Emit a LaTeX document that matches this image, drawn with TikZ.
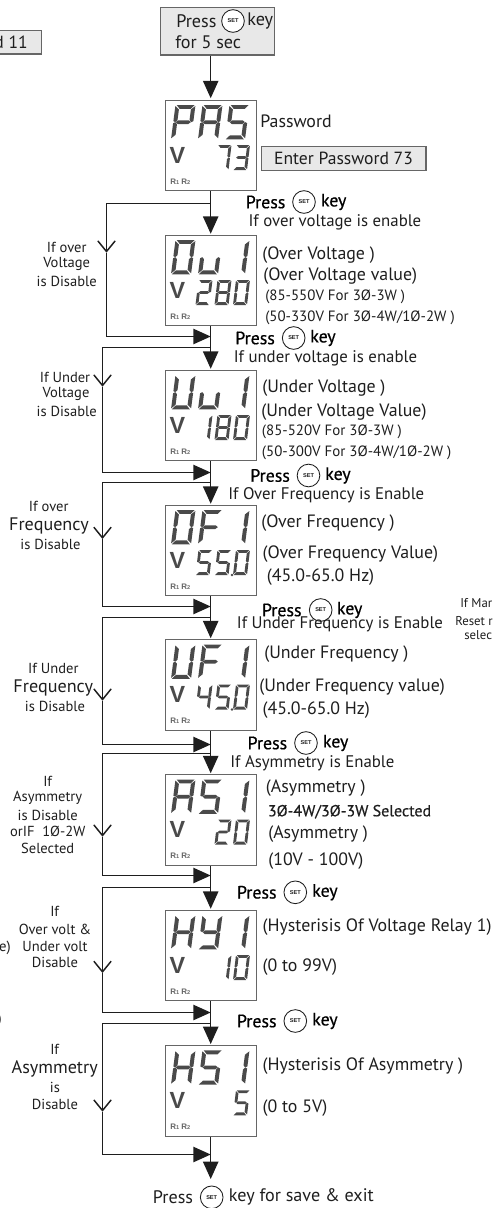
\documentclass[tikz,border=0pt]{standalone}
\usepackage{fontspec}
\setmainfont{PT Sans}
\newfontfamily\pressfont[FakeBold=0.6]{PT Sans}
\newfontfamily\vfont{Liberation Sans}
\usetikzlibrary{arrows.meta}
\definecolor{seg}{HTML}{4A4A4A}
\definecolor{ink}{HTML}{1E1E1E}
\definecolor{edge}{HTML}{666666}
\definecolor{panel}{HTML}{E8E8E8}
\newcommand{\fsize}[1]{\fontsize{#1}{#1}\selectfont}
\tikzset{
  lbl/.style={anchor=west,inner sep=0pt,text=ink,font=\fsize{13.4}},
  lblc/.style={anchor=west,inner sep=0pt,text=ink,font=\fsize{12.6}},
  lblm/.style={anchor=west,inner sep=0pt,text=ink,font=\fsize{11.2}},
  lblb/.style={anchor=west,inner sep=0pt,text=ink,font=\pressfont\fsize{12}},
  keytxt/.style={anchor=west,inner sep=0pt,text=black,font=\pressfont\fsize{13.4}},
  plaintxt/.style={anchor=west,inner sep=0pt,text=ink,font=\fsize{13.6}},
  cond/.style={anchor=center,inner sep=0pt,text=ink,font=\fsize{10.9}},
  condbig/.style={anchor=center,inner sep=0pt,text=ink,font=\fsize{13.6}},
  screenbox/.style={draw=edge,line width=0.75pt,fill=white,minimum width=68.2pt,minimum height=68.2pt,inner sep=0pt},
  greybox/.style={draw=edge,line width=0.85pt,fill=panel,inner sep=0pt},
  setkey/.style={circle,draw=ink,line width=0.65pt,fill=white,inner sep=0pt,minimum size=17pt,font=\vfont\bfseries\fsize{4.2},text=ink},
  flow/.style={draw=ink,line width=0.95pt},
  solidtip/.style={-{Triangle[width=11.5pt,length=13pt]}},
  barbtip/.style={-{Straight Barb[width=13pt,length=8pt,line width=1.1pt]}},
  vmark/.style={anchor=center,inner sep=0pt,text=seg,font=\vfont\bfseries\fsize{17.5}},
  rmark/.style={anchor=west,inner sep=0pt,text=edge,font=\vfont\bfseries\fsize{6}},
}
\newcommand{\dsa}{\fill[seg] (0.06,1)--(0.96,1)--(0.78,0.885)--(0.24,0.885)--cycle;}
\newcommand{\dsb}{\fill[seg] (1,0.97)--(1,0.53)--(0.90,0.50)--(0.80,0.56)--(0.80,0.87)--cycle;}
\newcommand{\dsc}{\fill[seg] (1,0.47)--(1,0.03)--(0.80,0.13)--(0.80,0.44)--(0.90,0.50)--cycle;}
\newcommand{\dsd}{\fill[seg] (0.04,0)--(0.94,0)--(0.76,0.115)--(0.22,0.115)--cycle;}
\newcommand{\dse}{\fill[seg] (0,0.03)--(0,0.47)--(0.10,0.50)--(0.20,0.44)--(0.20,0.13)--cycle;}
\newcommand{\dsf}{\fill[seg] (0,0.97)--(0,0.53)--(0.10,0.50)--(0.20,0.56)--(0.20,0.87)--cycle;}
\newcommand{\dsg}{\fill[seg] (0.12,0.50)--(0.24,0.555)--(0.76,0.555)--(0.88,0.50)--(0.76,0.445)--(0.24,0.445)--cycle;}
% digit: x (left), y (bottom), width, slant, height, segments
\newcommand{\lcd}[6]{\begin{scope}[shift={(#1,#2)},x={(#3*0.75pt,0pt)},y={(#4*0.75pt,#5*0.75pt)}]
  \edef\seglist{#6}
  \foreach \sg in \seglist {\csname ds\sg\endcsname}
\end{scope}}
\newcommand{\cP}{a,b,e,f,g}\newcommand{\cA}{a,b,c,e,f,g}\newcommand{\cS}{a,c,d,f,g}
\newcommand{\cO}{a,b,c,d,e,f}\newcommand{\cu}{c,d,e}\newcommand{\cI}{b,c}
\newcommand{\cU}{b,c,d,e,f}\newcommand{\cF}{a,e,f,g}\newcommand{\cH}{b,c,e,f,g}
\newcommand{\cY}{b,c,d,f,g}\newcommand{\cT}{a,b,c}\newcommand{\cE}{a,b,c,d,g}
\newcommand{\cW}{a,b,d,e,g}\newcommand{\cB}{a,b,c,d,e,f,g}\newcommand{\cQ}{b,c,f,g}
% screen: name, top, three big digits, three small digits
\newcommand{\screen}[8]{%
  \node[screenbox] (#1) at (210.7,#2+45.5) {};
  \lcd{171}{#2+39.3}{20}{4.5}{34.3}{#3}
  \lcd{198}{#2+39.3}{20}{4.5}{34.3}{#4}
  \lcd{225}{#2+39.3}{20}{4.5}{34.3}{#5}
  \lcd{195.5}{#2+70}{14}{3}{25}{#6}
  \lcd{214.5}{#2+70}{14}{3}{25}{#7}
  \lcd{233}{#2+70}{14}{3}{25}{#8}
  \node[vmark] (#1v) at (177.5,#2+55) {V};
  \node[rmark] (#1r) at (170,#2+81.5) {R\raisebox{-0.3pt}{\fsize{4.2}1} R\raisebox{-0.3pt}{\fsize{4.2}2}};
}
\newcommand{\presskey}[7]{%
  \node[#7] (#1p) at (#2,#3) {Press};
  \node[setkey] (#1c) at (#4,#3) {SET};
  \node[#7] (#1k) at (#5,#3) {#6};
}
\newcommand{\bypass}[5]{%
  \coordinate (#1a) at (210.7,#3);
  \coordinate (#1b) at (#2,#3);
  \coordinate (#1m) at (#2,#5);
  \coordinate (#1e) at (#2,#4);
  \coordinate (#1f) at (210.7,#4);
  \draw[flow,barbtip] (#1a) -- (#1b) -- (#1m);
  \draw[flow,solidtip] (#1m) -- (#1e) -- (#1f);
}
\begin{document}
\begin{tikzpicture}[x=0.75pt,y=-0.75pt]
\useasboundingbox (0,0) rectangle (494,1208);
% grey boxes
\node[greybox,minimum width=86pt,minimum height=35.6pt] (start) at (217.5,31.2) {};
\node[greybox,minimum width=123.4pt,minimum height=17.4pt] (enter) at (343.7,158.5) {};
\node[greybox,minimum width=34pt,minimum height=17.6pt] (cut) at (18.5,42.2) {};
\node[anchor=east,inner sep=0pt,text=ink,font=\fsize{13.2}] (cutt) at (28,42) {d 11};
\node[anchor=center,inner sep=0pt,text=ink,font=\fsize{13.2}] (entert) at (343.5,158.5) {Enter Password 73};
% screens
\screen{pas}{100}{\cP}{\cA}{\cS}{}{\cT}{\cE}
\screen{ou}{235}{\cO}{\cu}{\cI}{\cW}{\cB}{\cO}
\screen{uv}{370}{\cU}{\cu}{\cI}{\cI}{\cB}{\cO}
\screen{of}{505}{\cO}{\cF}{\cI}{\cS}{\cS}{\cO}
\screen{uf}{639.5}{\cU}{\cF}{\cI}{\cQ}{\cS}{\cO}
\screen{as}{774.5}{\cA}{\cS}{\cI}{}{\cW}{\cO}
\screen{hy}{910}{\cH}{\cY}{\cI}{}{\cI}{\cO}
\screen{hs}{1045.3}{\cH}{\cS}{\cI}{}{}{\cS}
\fill[seg] (232,575) circle (1.4);
\fill[seg] (232,709.5) circle (1.4);
% main flow
\coordinate (endp) at (210.7,1179);
\draw[flow,solidtip,shorten >=1pt] (start.south -| pas.north) -- (pas.north);
\draw[flow,solidtip,shorten >=0.6pt] (pas.south) -- (ou.north);
\draw[flow,solidtip,shorten >=0.6pt] (ou.south) -- (uv.north);
\draw[flow,solidtip,shorten >=0.6pt] (uv.south) -- (of.north);
\draw[flow,solidtip,shorten >=0.6pt] (of.south) -- (uf.north);
\draw[flow,solidtip,shorten >=0.6pt] (uf.south) -- (as.north);
\draw[flow,solidtip,shorten >=0.6pt] (as.south) -- (hy.north);
\draw[flow,solidtip,shorten >=0.6pt] (hy.south) -- (hs.north);
\draw[flow,solidtip] (hs.south) -- (endp);
% bypasses
\bypass{ba}{106.5}{203.5}{336.5}{252.7}
\bypass{bb}{102.5}{347.5}{472.5}{386.7}
\bypass{bc}{102.5}{482.5}{606.5}{539}
\bypass{bd}{102.5}{617.5}{744.5}{700.7}
\bypass{be}{102.5}{753.5}{875.5}{836.7}
\bypass{bf}{102.5}{887.5}{1012.5}{973}
\bypass{bg}{102.5}{1023.5}{1154.5}{1111.7}
% press keys
\presskey{ka}{176}{21}{233}{247}{key}{plaintxt}
\node[plaintxt] (ka2) at (175,42.5) {for 5 sec};
\presskey{kb}{245.5}{202}{304}{320.7}{key}{keytxt}
\presskey{kc}{235}{338}{293.7}{310}{key}{keytxt}
\presskey{kd}{250}{475.5}{308.5}{325}{key}{keytxt}
\presskey{ke}{261.7}{610}{320.7}{336.7}{key}{keytxt}
\presskey{kf}{247.3}{743}{306}{322.7}{key}{keytxt}
\presskey{kg}{236.7}{892.3}{295.3}{312}{key}{keytxt}
\presskey{kh}{236.7}{1021}{295.3}{312}{key}{keytxt}
\presskey{ki}{152.7}{1197.3}{211.7}{228.7}{key for save \& exit}{plaintxt}
% right labels
\node[lbl] (l1) at (260,121) {Password};
\node[lblc] (l2) at (248.3,222.7) {If over voltage is enable};
\node[lbl] (l3) at (262,255) {(Over Voltage )};
\node[lbl] (l4) at (263,275.7) {(Over Voltage value)};
\node[lblm] (l5) at (265,297) {(85-550V For 3Ø-3W )};
\node[lblm] (l6) at (265,318.3) {(50-330V For 3Ø-4W/1Ø-2W )};
\node[lblc] (l7) at (233.5,358) {If under voltage is enable};
\node[lbl] (l8) at (262,388.3) {(Under Voltage )};
\node[lbl] (l9) at (261,412) {(Under Voltage Value)};
\node[lblm] (l10) at (261.7,431.7) {(85-520V For 3Ø-3W )};
\node[lblm] (l11) at (261.7,452.7) {(50-300V For 3Ø-4W/1Ø-2W )};
\node[lblc] (l12) at (228,495) {If Over Frequency is Enable};
\node[lbl] (l13) at (261,523.3) {(Over Frequency )};
\node[lbl] (l14) at (262.3,554.3) {(Over Frequency Value)};
\node[lbl] (l15) at (266.7,576.7) {(45.0-65.0 Hz)};
\node[lblc] (l16) at (236.7,624.3) {If Under Frequency is Enable};
\node[lbl] (l17) at (264,654.3) {(Under Frequency )};
\node[lbl] (l18) at (259,687.3) {(Under Frequency value)};
\node[lbl] (l19) at (262.3,710) {(45.0-65.0 Hz)};
\node[lblc] (l20) at (230,763.3) {If Asymmetry is Enable};
\node[lbl] (l21) at (265.7,788.3) {(Asymmetry )};
\node[lblb] (l22) at (267.7,811.7) {3Ø-4W/3Ø-3W Selected};
\node[lbl] (l23) at (268,834.3) {(Asymmetry )};
\node[lbl] (l24) at (268,860.7) {(10V - 100V)};
\node[lbl] (l25) at (262.3,926.7) {(Hysterisis Of Voltage Relay 1)};
\node[lbl] (l26) at (262.3,966.7) {(0 to 99V)};
\node[lbl] (l27) at (262.3,1065.7) {(Hysterisis Of Asymmetry )};
\node[lbl] (l28) at (262.3,1108.3) {(0 to 5V)};
% left labels
\node[cond] (c1) at (66.7,247.3) {If over};
\node[cond] (c2) at (66.7,264.3) {Voltage};
\node[cond] (c3) at (66.7,281.3) {is Disable};
\node[cond] (c4) at (65,377.3) {If Under};
\node[cond] (c5) at (66,394) {Voltage};
\node[cond] (c6) at (66.7,411) {is Disable};
\node[cond] (c7) at (48.7,506) {If over};
\node[condbig] (c8) at (49,525.7) {Frequency};
\node[cond] (c9) at (50.5,544) {is Disable};
\node[cond] (c10) at (53.3,668.3) {If Under};
\node[condbig] (c11) at (53.3,688.3) {Frequency};
\node[cond] (c12) at (55,706) {is Disable};
\node[cond] (c13) at (47.7,781) {If};
\node[cond] (c14) at (47.7,798.3) {Asymmetry};
\node[cond] (c15) at (47.7,815.3) {is Disable};
\node[cond] (c16) at (47.7,831.7) {orIF\ \ 1Ø-2W};
\node[cond] (c17) at (47.7,848.3) {Selected};
\node[cond] (c18) at (54.7,911.7) {If};
\node[cond] (c19) at (55,929.3) {Over volt \&};
\node[cond] (c20) at (55,946.7) {Under volt};
\node[cond] (c21) at (55,962.3) {Disable};
\node[cond] (c22) at (54.7,1049.3) {If};
\node[condbig] (c23) at (54.7,1069.3) {Asymmetry};
\node[cond] (c24) at (55,1087.3) {is};
\node[cond] (c25) at (55,1104.3) {Disable};
% cut-off fragments at the edges
\node[anchor=east,inner sep=0pt,text=ink,font=\fsize{11}] (f1) at (11,948) {e)};
\node[anchor=east,inner sep=0pt,text=ink,font=\fsize{11}] (f2) at (2,1020) {)};
\node[anchor=west,inner sep=0pt,text=ink,font=\fsize{9.6}] (f3) at (460,603.3) {If Mar};
\node[anchor=west,inner sep=0pt,text=ink,font=\fsize{9.6}] (f4) at (455,620.7) {Reset r};
\node[anchor=west,inner sep=0pt,text=ink,font=\fsize{9.6}] (f5) at (464,635) {selec};
\end{tikzpicture}
\end{document}
